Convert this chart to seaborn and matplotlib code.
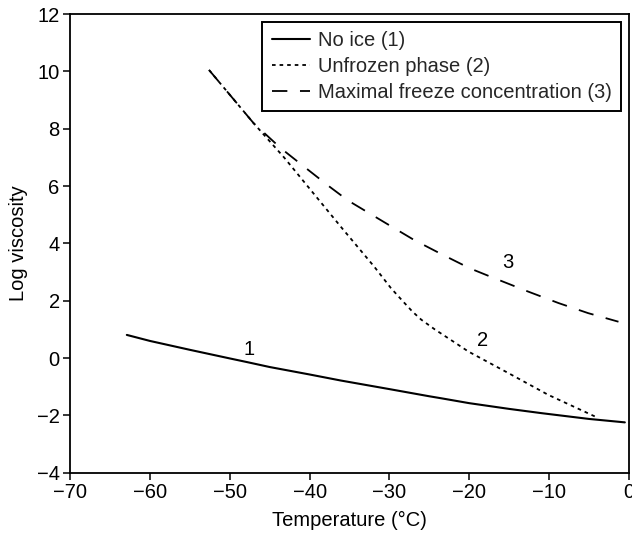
import matplotlib
matplotlib.use("Agg")
import matplotlib.pyplot as plt
import seaborn as sns
import pandas as pd

# Data
t_noice = [-62.9, -60, -55, -50, -47.8, -45, -40, -36.1, -30, -25, -23.5, -20, -15, -10.9, -5, -0.5]
v_noice = [0.81, 0.6, 0.29, -0.01, -0.14, -0.31, -0.57, -0.78, -1.08, -1.33, -1.40, -1.57, -1.77, -1.92, -2.12, -2.24]

t_unfrozen = [-52.6, -47, -43.2, -38.2, -35.9, -31.9, -29.8, -28.2, -27.1, -26, -24.3, -22, -20.1, -15.1, -10.1, -4.2]
v_unfrozen = [10.05, 8.19, 7.0, 5.3, 4.52, 3.19, 2.44, 1.95, 1.62, 1.34, 1.0, 0.58, 0.23, -0.52, -1.28, -2.04]

t_maxfreeze = [-52.6, -47, -43.6, -40.7, -37.5, -35.2, -30.4, -26.9, -23.5, -19.9, -17.5, -12.6, -8.8, -5.1, -1.3]
v_maxfreeze = [10.05, 8.19, 7.32, 6.68, 5.98, 5.5, 4.70, 4.12, 3.63, 3.13, 2.86, 2.32, 1.92, 1.57, 1.27]

labels = ["No ice (1)", "Unfrozen phase (2)", "Maximal freeze concentration (3)"]
curve_nums = ["1", "2", "3"]
label_pos_x = [-47.6, -18.3, -15.1]
label_pos_y = [0.3, 0.62, 3.35]

x_ticks = list(range(-70, 1, 10))
y_ticks = list(range(-4, 13, 2))

sns.set_theme(style="ticks")
plt.rcParams['font.family'] = ['Liberation Sans', 'DejaVu Sans']

FS = 14.5
fig = plt.figure(figsize=(6.32, 5.41), dpi=100)
ax = fig.add_axes([0.111, 0.126, 0.884, 0.848])

df1 = pd.DataFrame({"t": t_noice, "v": v_noice})
df2 = pd.DataFrame({"t": t_unfrozen, "v": v_unfrozen})
df3 = pd.DataFrame({"t": t_maxfreeze, "v": v_maxfreeze})

sns.lineplot(data=df1, x="t", y="v", ax=ax, color="black", lw=1.5, label=labels[0], sort=False)
sns.lineplot(data=df2, x="t", y="v", ax=ax, color="black", lw=1.3, label=labels[1], sort=False)
sns.lineplot(data=df3, x="t", y="v", ax=ax, color="black", lw=1.3, label=labels[2], sort=False)
ax.lines[1].set_linestyle((0, (2.0, 2.2)))
ax.lines[2].set_linestyle((0, (8.5, 7)))

for s, x, y in zip(curve_nums, label_pos_x, label_pos_y):
    ax.text(x, y, s, fontsize=FS, ha="center", va="center", color="black")

ax.set_xlim(-70, 0)
ax.set_ylim(-4, 12)
ax.set_xticks(x_ticks)
ax.set_yticks(y_ticks)
ax.set_xticklabels([f"\u2212{abs(v)}" if v < 0 else str(v) for v in x_ticks])
ax.set_yticklabels([f"\u2212{abs(v)}" if v < 0 else str(v) for v in y_ticks])
ax.tick_params(labelsize=FS, direction="out", length=5, width=1.1, color="black", labelcolor="black",
               top=False, right=False, pad=2.5)
for sp in ax.spines.values():
    sp.set_visible(True)
    sp.set_color("black")
    sp.set_linewidth(1.3)
ax.set_xlabel("Temperature (\u00b0C)", fontsize=FS, color="black", labelpad=6)
ax.set_ylabel("Log viscosity", fontsize=FS, color="black", labelpad=6)

leg = ax.legend(loc="upper right", fontsize=FS, frameon=True, fancybox=False, edgecolor="black",
                handlelength=1.9, borderaxespad=0.4, labelspacing=0.35, handletextpad=0.4,
                borderpad=0.45)
leg.get_frame().set_linewidth(1.4)
leg.get_frame().set_alpha(1)

fig.savefig("out.png", dpi=100)
